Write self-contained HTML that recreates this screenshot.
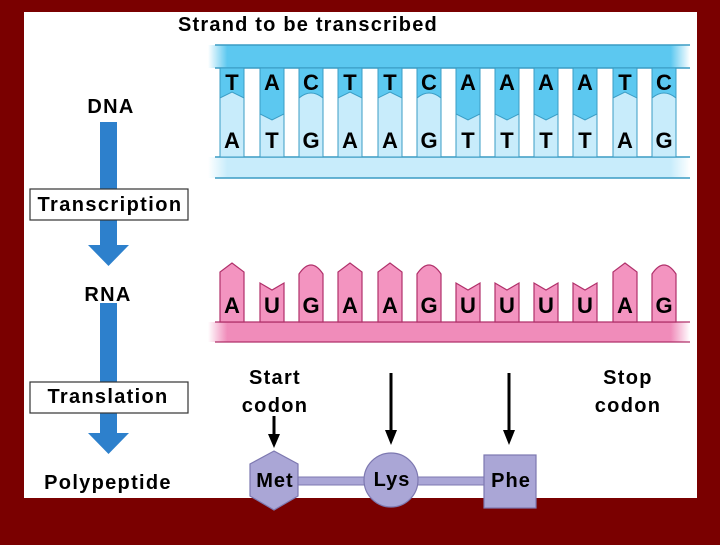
<!DOCTYPE html>
<html><head><style>body{margin:0;background:#7a0000}</style></head><body>
<svg width="720" height="540" viewBox="0 0 720 540" xmlns="http://www.w3.org/2000/svg" font-family="Liberation Sans, sans-serif" font-weight="bold">
<defs>
<linearGradient id="gd" x1="0" x2="1"><stop offset="0" stop-color="#fff"/><stop offset="0.04" stop-color="#5cc8f0"/><stop offset="0.96" stop-color="#5cc8f0"/><stop offset="1" stop-color="#fff"/></linearGradient>
<linearGradient id="gl" x1="0" x2="1"><stop offset="0" stop-color="#fff"/><stop offset="0.04" stop-color="#c8ecfb"/><stop offset="0.96" stop-color="#c8ecfb"/><stop offset="1" stop-color="#fff"/></linearGradient>
<linearGradient id="gp" x1="0" x2="1"><stop offset="0" stop-color="#fff"/><stop offset="0.04" stop-color="#f08cba"/><stop offset="0.96" stop-color="#f08cba"/><stop offset="1" stop-color="#fff"/></linearGradient>
</defs>
<rect x="0" y="0" width="720" height="540" fill="#7a0000"/>
<rect x="24" y="12" width="673" height="486" fill="#fff"/>
<text x="178" y="31" font-size="20" letter-spacing="1.2">Strand to be transcribed</text>
<rect x="208" y="45" width="482" height="23" fill="url(#gd)"/>
<line x1="215" y1="45" x2="690" y2="45" stroke="#3a9cc4" stroke-width="1.5"/>
<line x1="215" y1="68" x2="690" y2="68" stroke="#3a9cc4" stroke-width="1.5"/>
<rect x="208" y="157" width="482" height="21" fill="url(#gl)"/>
<line x1="215" y1="157" x2="690" y2="157" stroke="#3a9cc4" stroke-width="1.5"/>
<line x1="215" y1="178" x2="690" y2="178" stroke="#3a9cc4" stroke-width="1.5"/>
<g font-size="22" text-anchor="middle">
<g stroke="#3a9cc4" stroke-width="1">
<rect x="220" y="68" width="24" height="89" fill="#c8ecfb"/><path d="M220 68h24v30l-12-6-12 6z" fill="#5cc8f0"/>
<rect x="260" y="68" width="24" height="89" fill="#c8ecfb"/><path d="M260 68h24v46l-12 6-12-6z" fill="#5cc8f0"/>
<rect x="299" y="68" width="24" height="89" fill="#c8ecfb"/><path d="M299 68h24v30q-12-10-24 0z" fill="#5cc8f0"/>
<rect x="338" y="68" width="24" height="89" fill="#c8ecfb"/><path d="M338 68h24v30l-12-6-12 6z" fill="#5cc8f0"/>
<rect x="378" y="68" width="24" height="89" fill="#c8ecfb"/><path d="M378 68h24v30l-12-6-12 6z" fill="#5cc8f0"/>
<rect x="417" y="68" width="24" height="89" fill="#c8ecfb"/><path d="M417 68h24v30q-12-10-24 0z" fill="#5cc8f0"/>
<rect x="456" y="68" width="24" height="89" fill="#c8ecfb"/><path d="M456 68h24v46l-12 6-12-6z" fill="#5cc8f0"/>
<rect x="495" y="68" width="24" height="89" fill="#c8ecfb"/><path d="M495 68h24v46l-12 6-12-6z" fill="#5cc8f0"/>
<rect x="534" y="68" width="24" height="89" fill="#c8ecfb"/><path d="M534 68h24v46l-12 6-12-6z" fill="#5cc8f0"/>
<rect x="573" y="68" width="24" height="89" fill="#c8ecfb"/><path d="M573 68h24v46l-12 6-12-6z" fill="#5cc8f0"/>
<rect x="613" y="68" width="24" height="89" fill="#c8ecfb"/><path d="M613 68h24v30l-12-6-12 6z" fill="#5cc8f0"/>
<rect x="652" y="68" width="24" height="89" fill="#c8ecfb"/><path d="M652 68h24v30q-12-10-24 0z" fill="#5cc8f0"/>
</g>
<g>
<text x="232" y="90">T</text><text x="272" y="90">A</text><text x="311" y="90">C</text><text x="350" y="90">T</text><text x="390" y="90">T</text><text x="429" y="90">C</text><text x="468" y="90">A</text><text x="507" y="90">A</text><text x="546" y="90">A</text><text x="585" y="90">A</text><text x="625" y="90">T</text><text x="664" y="90">C</text>
<text x="232" y="148">A</text><text x="272" y="148">T</text><text x="311" y="148">G</text><text x="350" y="148">A</text><text x="390" y="148">A</text><text x="429" y="148">G</text><text x="468" y="148">T</text><text x="507" y="148">T</text><text x="546" y="148">T</text><text x="585" y="148">T</text><text x="625" y="148">A</text><text x="664" y="148">G</text>
</g>
<rect x="208" y="322" width="482" height="20" fill="url(#gp)"/>
<line x1="215" y1="322" x2="690" y2="322" stroke="#b0306a" stroke-width="1.2"/>
<line x1="215" y1="342" x2="690" y2="342" stroke="#b0306a" stroke-width="1.2"/>
<g fill="#f394c0" stroke="#b0306a" stroke-width="1.2">
<path d="M220 322v-50l12-9 12 9v50z"/>
<path d="M260 322v-39l12 7 12-7v39z"/>
<path d="M299 322v-48q12-18 24 0v48z"/>
<path d="M338 322v-50l12-9 12 9v50z"/>
<path d="M378 322v-50l12-9 12 9v50z"/>
<path d="M417 322v-48q12-18 24 0v48z"/>
<path d="M456 322v-39l12 7 12-7v39z"/>
<path d="M495 322v-39l12 7 12-7v39z"/>
<path d="M534 322v-39l12 7 12-7v39z"/>
<path d="M573 322v-39l12 7 12-7v39z"/>
<path d="M613 322v-50l12-9 12 9v50z"/>
<path d="M652 322v-48q12-18 24 0v48z"/>
</g>
<g>
<text x="232" y="313">A</text><text x="272" y="313">U</text><text x="311" y="313">G</text><text x="350" y="313">A</text><text x="390" y="313">A</text><text x="429" y="313">G</text><text x="468" y="313">U</text><text x="507" y="313">U</text><text x="546" y="313">U</text><text x="585" y="313">U</text><text x="625" y="313">A</text><text x="664" y="313">G</text>
</g>
</g>
<g font-size="20" text-anchor="middle" letter-spacing="1.3">
<text x="111" y="113">DNA</text>
<text x="108" y="301">RNA</text>
<text x="108" y="489">Polypeptide</text>
</g>
<g fill="#2d80cc">
<rect x="100" y="122" width="17" height="70"/>
<rect x="100" y="220" width="17" height="25"/>
<path d="M88 245h41l-20.5 21z"/>
<rect x="100" y="303" width="17" height="80"/>
<rect x="100" y="411" width="17" height="22"/>
<path d="M88 433h41l-20.5 21z"/>
</g>
<rect x="30" y="189" width="158" height="31" fill="#fff" stroke="#333" stroke-width="1.2"/>
<text x="110" y="211" font-size="20" text-anchor="middle" letter-spacing="1.4">Transcription</text>
<rect x="30" y="382" width="158" height="31" fill="#fff" stroke="#333" stroke-width="1.2"/>
<text x="108" y="403" font-size="20" text-anchor="middle" letter-spacing="1.3">Translation</text>
<g font-size="20" text-anchor="middle" letter-spacing="1.3">
<text x="275" y="384">Start</text><text x="275" y="412">codon</text>
<text x="628" y="384">Stop</text><text x="628" y="412">codon</text>
</g>
<g stroke="#000" stroke-width="3">
<line x1="274" y1="416" x2="274" y2="436"/>
<line x1="391" y1="373" x2="391" y2="432"/>
<line x1="509" y1="373" x2="509" y2="432"/>
</g>
<g fill="#000">
<path d="M268 434h12l-6 14z"/><path d="M385 430h12l-6 15z"/><path d="M503 430h12l-6 15z"/>
</g>
<rect x="290" y="477" width="200" height="8" fill="#aaa6d6" stroke="#7d78b0" stroke-width="1"/>
<path d="M274 451l24 13v32l-24 14-24-14v-32z" fill="#aaa6d6" stroke="#7d78b0" stroke-width="1.2"/>
<circle cx="391" cy="480" r="27" fill="#aaa6d6" stroke="#7d78b0" stroke-width="1.2"/>
<rect x="484" y="455" width="52" height="53" fill="#aaa6d6" stroke="#7d78b0" stroke-width="1.2"/>
<g font-size="20" text-anchor="middle" letter-spacing="1">
<text x="275" y="487">Met</text><text x="392" y="486">Lys</text><text x="511" y="487">Phe</text>
</g>
</svg>
</body></html>
